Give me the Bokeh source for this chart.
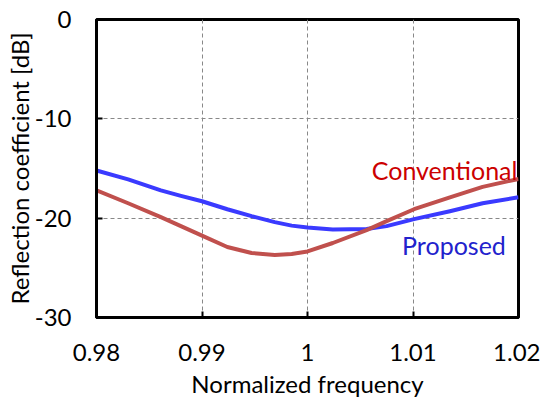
from bokeh.plotting import figure
from bokeh.models import FixedTicker, Range1d
from bokeh.core.properties import value
from bokeh.embed import file_html
from bokeh.resources import INLINE

freq = [0.98, 0.983, 0.9861, 0.988, 0.99, 0.9924, 0.9947, 0.9969, 0.9985, 1.0,
        1.0024, 1.0056, 1.0075, 1.0101, 1.0135, 1.0166, 1.02]
conventional = [-17.2, -18.5, -19.9, -20.8, -21.75, -22.9, -23.5, -23.7, -23.6, -23.35,
                -22.5, -21.2, -20.3, -19.1, -17.9, -16.85, -16.05]
proposed = [-15.2, -16.1, -17.2, -17.75, -18.3, -19.1, -19.8, -20.4, -20.75, -20.95,
            -21.15, -21.1, -20.8, -20.1, -19.3, -18.5, -17.9]
x_ticks = [0.98, 0.99, 1.0, 1.01, 1.02]
x_tick_labels = ["0.98", "0.99", "1", "1.01", "1.02"]
y_ticks = [0, -10, -20, -30]
y_tick_labels = ["0", "-10", "-20", "-30"]

FONT = "Lato"

p = figure(width=540, height=403, output_backend="svg", toolbar_location=None,
           x_range=Range1d(0.98, 1.02), y_range=Range1d(-30, 0),
           min_border_left=96, min_border_right=22, min_border_top=19, min_border_bottom=86)
p.background_fill_color = "white"
p.border_fill_color = "white"
p.outline_line_color = "black"
p.outline_line_width = 3

p.line(freq, proposed, line_color="#3a3aff", line_width=4, line_join="round")
p.line(freq, conventional, line_color="#c0504d", line_width=4, line_join="round")

p.text(x=[1.0199], y=[-15.2], text=["Conventional"], text_align="right",
       text_baseline="alphabetic", text_color="#cc0000", text_font=value(FONT),
       text_font_size="25px")
p.text(x=[1.0188], y=[-22.66], text=["Proposed"], text_align="right",
       text_baseline="alphabetic", text_color="#2222cc", text_font=value(FONT),
       text_font_size="25px")

for ax, ticks, labels in ((p.xaxis[0], x_ticks, x_tick_labels), (p.yaxis[0], y_ticks, y_tick_labels)):
    ax.ticker = FixedTicker(ticks=ticks)
    ax.major_label_overrides = {t: l for t, l in zip(ticks, labels)}
    ax.major_label_text_font = FONT
    ax.major_label_text_font_size = "24px"
    ax.major_label_text_color = "black"
    ax.axis_line_color = "black"
    ax.axis_line_width = 3
    ax.major_tick_in = 6
    ax.major_tick_out = 0
    ax.major_tick_line_width = 2
    ax.minor_tick_line_color = None
    ax.axis_label_text_font = FONT
    ax.axis_label_text_font_size = "24px"
    ax.axis_label_text_font_style = "normal"
    ax.axis_label_text_color = "black"

p.xaxis.axis_label = "Normalized frequency"
p.yaxis.axis_label = "Reflection coefficient [dB]"
p.xaxis.major_label_standoff = 26
p.yaxis.major_label_standoff = 25
p.xaxis.axis_label_standoff = 5
p.yaxis.axis_label_standoff = -2

p.xgrid.grid_line_color = "#888888"
p.ygrid.grid_line_color = "#888888"
p.xgrid.grid_line_dash = "4 3"
p.ygrid.grid_line_dash = "4 3"
p.xgrid.grid_line_width = 1
p.ygrid.grid_line_width = 1

open("out.html", "w").write(file_html(p, INLINE))
